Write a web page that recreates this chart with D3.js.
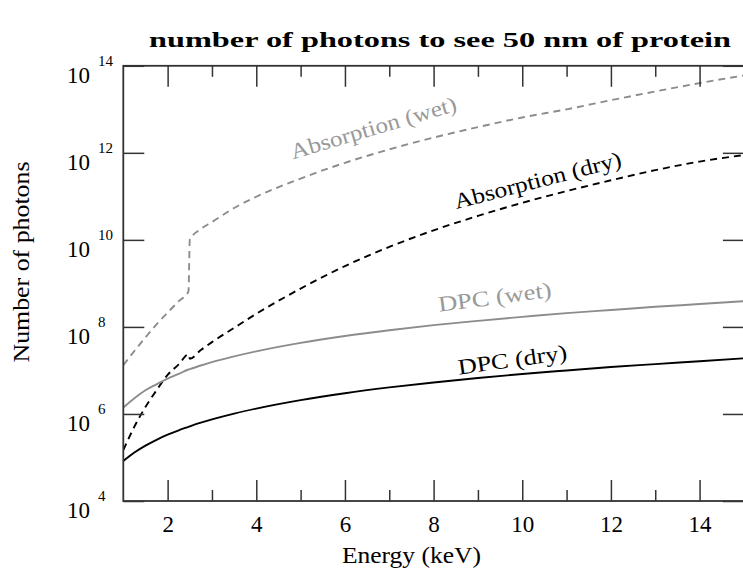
<!DOCTYPE html>
<html>
<head>
<meta charset="utf-8">
<script src="https://cdn.jsdelivr.net/npm/d3@7"></script>
<style>
  html, body { margin: 0; padding: 0; background: #fff; }
  svg { display: block; }
</style>
</head>
<body>
<svg id="chart" width="743" height="576"></svg>
<script>
// Photon energy (keV); 2.47 / 2.5 bracket the sulfur K edge
const energy = [1, 1.25, 1.5, 1.75, 2, 2.25, 2.47, 2.5, 2.75, 3, 3.5, 4, 5, 6, 7, 8, 9, 10, 11, 12, 13, 14, 15];

// Photons needed to see 50 nm of protein
const dpcDry = [8.3e4, 1.3e5, 1.87e5, 2.55e5, 3.33e5, 4.21e5, 5.07e5, 5.2e5, 6.3e5, 7.5e5, 1.02e6, 1.33e6, 2.08e6, 3.0e6, 4.07e6, 5.3e6, 6.7e6, 8.3e6, 1.0e7, 1.2e7, 1.4e7, 1.63e7, 1.9e7];
const dpcWet = [1.4e6, 2.3e6, 3.5e6, 4.8e6, 6.5e6, 8.3e6, 1.05e7, 1.07e7, 1.3e7, 1.55e7, 2.1e7, 2.75e7, 4.3e7, 6.2e7, 8.4e7, 1.1e8, 1.38e8, 1.7e8, 2.08e8, 2.45e8, 2.9e8, 3.35e8, 3.9e8];
const absDry = [1.48e5, 5.1e5, 1.45e6, 3.5e6, 7.9e6, 1.38e7, 2.34e7, 1.86e7, 2.95e7, 4.47e7, 9.5e7, 2.0e8, 7.6e8, 2.5e9, 6.9e9, 1.66e10, 3.55e10, 7.1e10, 1.32e11, 2.34e11, 4.0e11, 6.3e11, 8.9e11];
const absWet = [1.32e7, 2.8e7, 5.75e7, 1.15e8, 2.14e8, 3.9e8, 6.5e8, 1.0e10, 1.78e10, 2.57e10, 5.4e10, 9.8e10, 2.57e11, 5.9e11, 1.2e12, 2.24e12, 3.9e12, 6.5e12, 1.0e13, 1.62e13, 2.57e13, 4.0e13, 6.0e13];

// Axis ticks
const xMajor = [2, 4, 6, 8, 10, 12, 14];
const xMinor = [3, 5, 7, 9, 11, 13];
const yExponents = [4, 6, 8, 10, 12, 14];

const titleText = "number of photons to see 50 nm of protein";
const xLabel = "Energy (keV)";
const yLabel = "Number of photons";

const FONT = '"Liberation Serif"';

const series = [
  { name: "Absorption (wet)", values: absWet, color: "#8c8c8c", dash: "7,5" },
  { name: "Absorption (dry)", values: absDry, color: "#000", dash: "7,5" },
  { name: "DPC (wet)", values: dpcWet, color: "#8c8c8c", dash: null },
  { name: "DPC (dry)", values: dpcDry, color: "#000", dash: null }
];

// Inline label placement: baseline centre (energy, value), rotation, width
const labels = [
  { text: "Absorption (wet)", e: 6.69, v: 2.6e12, angle: -16.5, len: 172, color: "#999" },
  { text: "Absorption (dry)", e: 10.39, v: 1.6e11, angle: -14.5, len: 172, color: "#000" },
  { text: "DPC (wet)", e: 9.4, v: 3.3e8, angle: -7.5, len: 114, color: "#999" },
  { text: "DPC (dry)", e: 9.8, v: 1.2e7, angle: -8, len: 110, color: "#000" }
];

const margin = { top: 65.8, left: 123.3 };
const iw = 620.6, ih = 435.2;

const svg = d3.select("#chart");
const g = svg.append("g").attr("transform", `translate(${margin.left},${margin.top})`);

const x = d3.scaleLinear().domain([1, 15]).range([0, iw]);
const y = d3.scaleLog().domain([1e4, 1e14]).range([ih, 0]);

const axisColor = "#333";

// Curves
const line = d3.line()
  .x((d, i) => x(energy[i]))
  .y(d => y(d))
  .curve(d3.curveMonotoneX);

svg.append("defs").append("clipPath").attr("id", "plot-clip")
  .append("rect").attr("width", iw).attr("height", ih);

g.append("g").attr("clip-path", "url(#plot-clip)")
  .selectAll("path")
  .data(series)
  .join("path")
  .attr("d", d => line(d.values))
  .attr("fill", "none")
  .attr("stroke", d => d.color)
  .attr("stroke-width", 1.9)
  .attr("stroke-dasharray", d => d.dash);

// Ticks: major and minor along bottom and top, pointing inwards
function styleAxis(sel) {
  sel.attr("font-family", FONT).attr("font-size", 23);
  sel.select(".domain").remove();
  sel.selectAll(".tick line").attr("stroke", axisColor).attr("stroke-width", 1.5);
  sel.selectAll(".tick text").attr("fill", "#000");
}

g.append("g").attr("transform", `translate(0,${ih})`)
  .call(d3.axisBottom(x).tickValues(xMajor).tickSizeInner(-21).tickSizeOuter(0).tickPadding(15).tickFormat(d3.format("d")))
  .call(styleAxis);
g.append("g").attr("transform", `translate(0,${ih})`)
  .call(d3.axisBottom(x).tickValues(xMinor).tickSizeInner(-11).tickSizeOuter(0).tickFormat(""))
  .call(styleAxis);
g.append("g")
  .call(d3.axisTop(x).tickValues(xMajor).tickSizeInner(-21).tickSizeOuter(0).tickFormat(""))
  .call(styleAxis);
g.append("g")
  .call(d3.axisTop(x).tickValues(xMinor).tickSizeInner(-11).tickSizeOuter(0).tickFormat(""))
  .call(styleAxis);

// Y ticks left and right
const yTicks = yExponents.map(p => Math.pow(10, p));
g.append("g")
  .call(d3.axisLeft(y).tickValues(yTicks).tickSizeInner(-21).tickSizeOuter(0).tickFormat(""))
  .call(styleAxis);
g.append("g").attr("transform", `translate(${iw},0)`)
  .call(d3.axisRight(y).tickValues(yTicks).tickSizeInner(-21).tickSizeOuter(0).tickFormat(""))
  .call(styleAxis);

// Y tick labels: 10 with superscript exponent
const yl = g.append("g").attr("font-family", FONT);
yExponents.forEach(p => {
  const ty = y(Math.pow(10, p));
  yl.append("text")
    .attr("x", -33.3).attr("y", ty + 17.5)
    .attr("text-anchor", "end")
    .attr("font-size", 23)
    .text("10");
  yl.append("text")
    .attr("x", -25.3).attr("y", ty + 0.5)
    .attr("text-anchor", "start")
    .attr("font-size", 15)
    .text(p);
});

// Frame
g.append("rect")
  .attr("width", iw).attr("height", ih)
  .attr("fill", "none")
  .attr("stroke", axisColor)
  .attr("stroke-width", 1.8);

// Curve labels
labels.forEach(l => {
  g.append("text")
    .attr("transform", `translate(${x(l.e)},${y(l.v)}) rotate(${l.angle})`)
    .attr("text-anchor", "middle")
    .attr("textLength", l.len)
    .attr("lengthAdjust", "spacingAndGlyphs")
    .attr("font-family", FONT)
    .attr("font-size", 22)
    .attr("fill", l.color)
    .text(l.text);
});

// Axis titles
svg.append("text")
  .attr("x", margin.left + x(7.5)).attr("y", 563)
  .attr("text-anchor", "middle")
  .attr("textLength", 139)
  .attr("lengthAdjust", "spacingAndGlyphs")
  .attr("font-family", FONT)
  .attr("font-size", 23)
  .text(xLabel);

svg.append("text")
  .attr("transform", "translate(28.5,262) rotate(-90)")
  .attr("text-anchor", "middle")
  .attr("textLength", 201)
  .attr("lengthAdjust", "spacingAndGlyphs")
  .attr("font-family", FONT)
  .attr("font-size", 23)
  .text(yLabel);

// Title
svg.append("text")
  .attr("x", 440).attr("y", 47)
  .attr("text-anchor", "middle")
  .attr("textLength", 582)
  .attr("lengthAdjust", "spacingAndGlyphs")
  .attr("font-family", FONT)
  .attr("font-size", 21)
  .attr("font-weight", "bold")
  .text(titleText);
</script>
</body>
</html>
